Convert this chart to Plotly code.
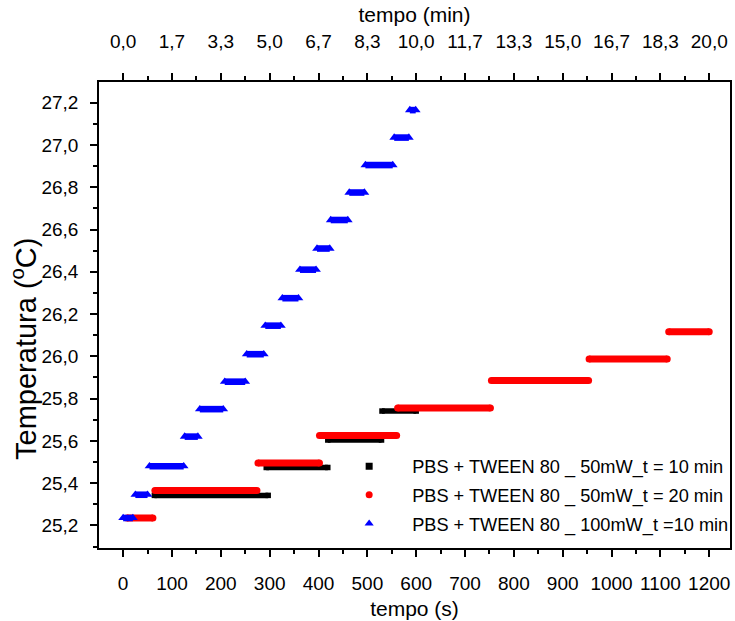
import plotly.graph_objects as go

# ---- data ----
# plateaus: start time (s), end time (s), temperature (°C)
black_start = [64, 293, 419, 530]
black_end = [297, 419, 529, 600]
black_temp = [25.342, 25.474, 25.604, 25.741]

red_start = [8, 65, 276, 402, 562, 754, 954, 1117]
red_end = [61, 274, 402, 560, 752, 953, 1114, 1200]
red_temp = [25.235, 25.365, 25.495, 25.625, 25.755, 25.886, 25.987, 26.116]

blue_start = [0, 25, 54, 126, 157, 208, 253, 291, 326, 362, 397, 425, 463, 496, 555, 587]
blue_end = [20, 50, 124, 153, 205, 250, 288, 323, 359, 395, 423, 460, 494, 552, 585, 599]
blue_temp = [25.235, 25.345, 25.48, 25.62, 25.75, 25.88, 26.01, 26.145, 26.275, 26.41,
             26.51, 26.645, 26.775, 26.905, 27.035, 27.165]

series_names = [
    "PBS + TWEEN 80 _ 50mW_t = 10 min",
    "PBS + TWEEN 80 _ 50mW_t = 20 min",
    "PBS + TWEEN 80 _ 100mW_t =10 min",
]

x_tickvals = [0, 100, 200, 300, 400, 500, 600, 700, 800, 900, 1000, 1100, 1200]
top_ticktext = ["0,0", "1,7", "3,3", "5,0", "6,7", "8,3", "10,0", "11,7", "13,3",
                "15,0", "16,7", "18,3", "20,0"]

FONT = "Liberation Sans, Arial, sans-serif"


def plateau_xy(starts, ends, temps):
    xs, ys = [], []
    for s, e, t in zip(starts, ends, temps):
        xs += [s, e, None]
        ys += [t, t, None]
    return xs, ys


fig = go.Figure()

specs = [
    (black_start, black_end, black_temp, "#000000", "square", 5.5, 5.5, 7),
    (red_start, red_end, red_temp, "#ff0000", "circle", 7, 7, 7),
    (blue_start, blue_end, blue_temp, "#0000ff", "triangle-up", 8.5, 6.6, 8),
]

for i, ((st, en, tp, col, sym, msize, lw, legsize), name) in enumerate(zip(specs, series_names)):
    xs, ys = plateau_xy(st, en, tp)
    fig.add_trace(go.Scatter(
        x=xs, y=ys, mode="lines+markers",
        line=dict(color=col, width=lw),
        marker=dict(symbol=sym, size=msize, color=col, line=dict(width=0)),
        showlegend=False, hoverinfo="skip", connectgaps=False,
        legendgroup=f"g{i}",
    ))
    fig.add_trace(go.Scatter(
        x=[None], y=[None], mode="markers", name=name,
        marker=dict(symbol=sym, size=legsize, color=col, line=dict(width=0)),
        showlegend=True, legendgroup=f"g{i}",
    ))

# trace on the top (minutes) axis so it is drawn
fig.add_trace(go.Scatter(x=[None], y=[None], xaxis="x2", showlegend=False, hoverinfo="skip"))

x_range = [-49.4, 1242.5]
y_range = [25.093, 27.298]

tick_common = dict(ticks="outside", ticklen=7, tickwidth=1.5, tickcolor="black",
                   showgrid=False, zeroline=False, showline=True,
                   linecolor="black", linewidth=1.5)

fig.update_layout(
    width=735, height=621,
    margin=dict(l=99, r=1, t=82, b=73),
    paper_bgcolor="white", plot_bgcolor="white",
    separators=",.",
    font=dict(family=FONT, color="black", size=19),
    xaxis=dict(
        range=x_range, mirror=False,
        tickvals=x_tickvals, tickformat="d",
        tickfont=dict(size=19, family=FONT), ticklabelstandoff=10,
        minor=dict(dtick=50, tick0=0, ticks="outside", ticklen=4, tickwidth=1.5, tickcolor="black"),
        title=dict(text="tempo (s)", font=dict(size=21, family=FONT), standoff=9),
        **tick_common,
    ),
    xaxis2=dict(
        range=x_range, overlaying="x", side="top",
        tickmode="array", tickvals=x_tickvals, ticktext=top_ticktext,
        tickfont=dict(size=19, family=FONT), ticklabelstandoff=18,
        minor=dict(dtick=50, tick0=0, ticks="outside", ticklen=4, tickwidth=1.5, tickcolor="black"),
        title=dict(text="tempo (min)", font=dict(size=21, family=FONT), standoff=2),
        **tick_common,
    ),
    yaxis=dict(
        range=y_range, mirror=True,
        tick0=25.2, dtick=0.2, tickformat=".1f",
        tickfont=dict(size=19, family=FONT), ticklabelstandoff=8,
        minor=dict(dtick=0.1, tick0=25.1, ticks="outside", ticklen=4, tickwidth=1.5, tickcolor="black"),
        **tick_common,
    ),
    annotations=[dict(
        text="Temperatura (<sup>o</sup>C)", textangle=-90,
        xref="paper", yref="paper", x=-0.119, y=0.427,
        xanchor="center", yanchor="middle", showarrow=False,
        font=dict(size=29, family=FONT, color="black"),
    )],
    legend=dict(
        x=0.360, y=0.215, xanchor="left", yanchor="top",
        bgcolor="rgba(0,0,0,0)", borderwidth=0,
        font=dict(size=18.2, family=FONT, color="black"),
        itemwidth=76, tracegroupgap=2, traceorder="grouped",
    ),
)

fig.write_html("out.html", config={"displayModeBar": False},
               post_script="document.body.style.margin='0';")
